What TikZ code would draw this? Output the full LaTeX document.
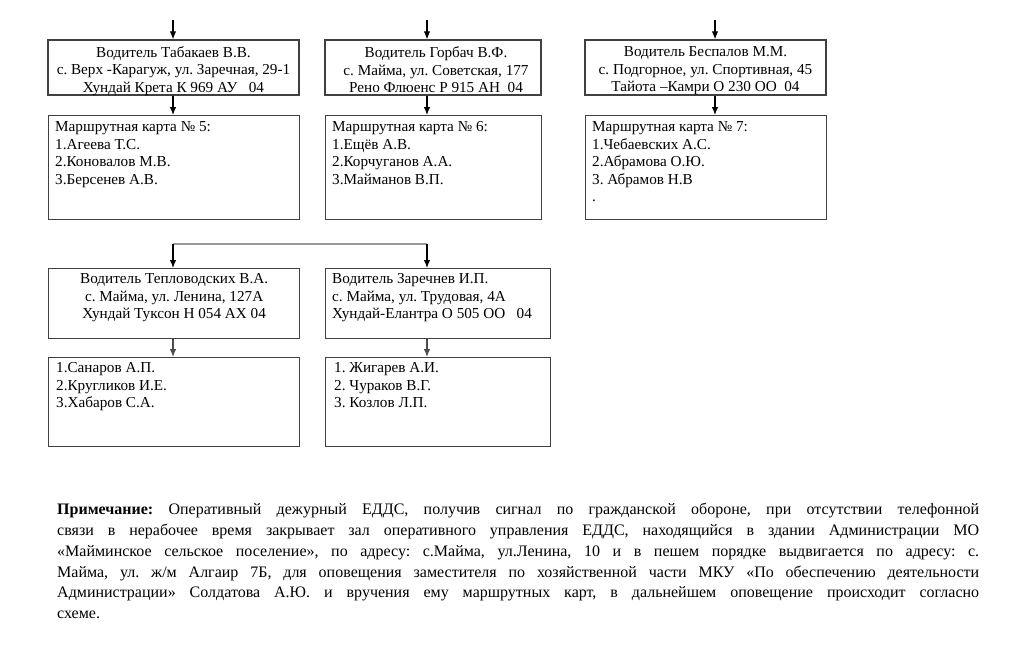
\documentclass[tikz,border=0pt]{standalone}
\usepackage{fontspec}
\setmainfont{Liberation Serif}
\usetikzlibrary{arrows.meta}
\frenchspacing

\begin{document}
\begin{tikzpicture}[>={Latex[length=8pt,width=6.5pt]}, x=1pt, y=-1pt,
  box/.style={draw=black!75, line width=1.3pt, inner sep=0pt},
  txt/.style={font=\fontsize{15.2}{17.5}\selectfont, inner sep=0pt, align=left},
  ctxt/.style={txt, align=center},
  link/.style={->, line width=1.1pt}]
\useasboundingbox (0,0) rectangle (1024,662);

% drivers, first row
\node[box, minimum width=251pt, minimum height=55pt] (d5) at (173.5,67.5) {};
\node[box, minimum width=216pt, minimum height=55pt] (d6) at (433,67.5) {};
\node[box, minimum width=241pt, minimum height=55pt] (d7) at (705.5,67.5) {};
\node[ctxt] (t5) at ([shift={(0,3.5)}]d5.center) {Водитель Табакаев В.В.\\с. Верх -Карагуж, ул. Заречная, 29-1\\Хундай Крета К 969 АУ\ \ \ 04};
\node[ctxt] (t6) at ([shift={(3,2.5)}]d6.center) {Водитель Горбач В.Ф.\\с. Майма, ул. Советская, 177\\Рено Флюенс Р 915 АН\ \ 04};
\node[ctxt] (t7) at ([shift={(0,3.5)}]d7.center) {Водитель Беспалов М.М.\\с. Подгорное, ул. Спортивная, 45\\Тайота –Камри О 230 ОО\ \ 04};

% route cards, first row
\node[box, minimum width=251pt, minimum height=104pt, anchor=north west] (c5) at (48,115) {};
\node[box, minimum width=216pt, minimum height=104pt, anchor=north west] (c6) at (325,115) {};
\node[box, minimum width=241pt, minimum height=104pt, anchor=north west] (c7) at (585,115) {};
\node[txt, anchor=north west] (k5) at ([shift={(7,6.5)}]c5.north west) {Маршрутная карта № 5:\\1.Агеева Т.С.\\2.Коновалов М.В.\\3.Берсенев А.В.};
\node[txt, anchor=north west] (k6) at ([shift={(7,6.5)}]c6.north west) {Маршрутная карта № 6:\\1.Ещёв А.В.\\2.Корчуганов А.А.\\3.Майманов В.П.};
\node[txt, anchor=north west] (k7) at ([shift={(7,6.5)}]c7.north west) {Маршрутная карта № 7:\\1.Чебаевских А.С.\\2.Абрамова О.Ю.\\3. Абрамов Н.В\\.};

% drivers, second row
\node[box, minimum width=251pt, minimum height=70pt, anchor=north west] (d8) at (48,268) {};
\node[box, minimum width=225pt, minimum height=70pt, anchor=north west] (d9) at (325,268) {};
\node[ctxt, anchor=north] (t8) at ([shift={(0,5.5)}]d8.north) {Водитель Тепловодских В.А.\\с. Майма, ул. Ленина, 127А\\Хундай Туксон Н 054 АХ 04};
\node[txt, anchor=north west] (t9) at ([shift={(7,5.5)}]d9.north west) {Водитель Заречнев И.П.\\с. Майма, ул. Трудовая, 4А\\Хундай-Елантра О 505 ОО\ \ \ 04};

% route cards, second row
\node[box, minimum width=251pt, minimum height=89pt, anchor=north west] (c8) at (48,357) {};
\node[box, minimum width=225pt, minimum height=89pt, anchor=north west] (c9) at (325,357) {};
\node[txt, anchor=north west] (k8) at ([shift={(8,5.5)}]c8.north west) {1.Санаров А.П.\\2.Кругликов И.Е.\\3.Хабаров С.А.};
\node[txt, anchor=north west] (k9) at ([shift={(9,5.5)}]c9.north west) {1. Жигарев А.И.\\2. Чураков В.Г.\\3. Козлов Л.П.};

% arrows
\coordinate (a5) at (173,20);
\coordinate (a6) at (427,20);
\coordinate (a7) at (715,20);
\foreach \n in {5,6,7}{
  \draw[link] (a\n) -- (a\n |- d\n.north);
  \draw[link] (a\n |- d\n.south) -- (a\n |- c\n.north);
}
\coordinate (f8) at (173,244);
\coordinate (f9) at (427,244);
\draw[line width=1.3pt, black!40] (f8) -- (f9);
\draw[link] (f8) -- (f8 |- d8.north);
\draw[link] (f9) -- (f9 |- d9.north);
\draw[link, draw=black!70] (f8 |- d8.south) -- (f8 |- c8.north);
\draw[link, draw=black!70] (f9 |- d9.south) -- (f9 |- c9.north);

% note
\node[anchor=north west, text width=922pt, align=justify, inner sep=0pt,
  font=\fontsize{16}{20.8}\selectfont] (note) at (57,503)
  {\hyphenpenalty=10000 \textbf{Примечание:} Оперативный дежурный ЕДДС, получив сигнал по гражданской обороне, при отсутствии телефонной\linebreak
  связи в нерабочее время закрывает зал оперативного управления ЕДДС, находящийся в здании Администрации МО\linebreak
  «Майминское сельское поселение», по адресу: с.Майма, ул.Ленина, 10 и в пешем порядке выдвигается по адресу: с.\linebreak
  Майма, ул. ж/м Алгаир 7Б, для оповещения заместителя по хозяйственной части МКУ «По обеспечению деятельности\linebreak
  Администрации» Солдатова А.Ю. и вручения ему маршрутных карт, в дальнейшем оповещение происходит согласно\linebreak
  схеме.};
\end{tikzpicture}
\end{document}
